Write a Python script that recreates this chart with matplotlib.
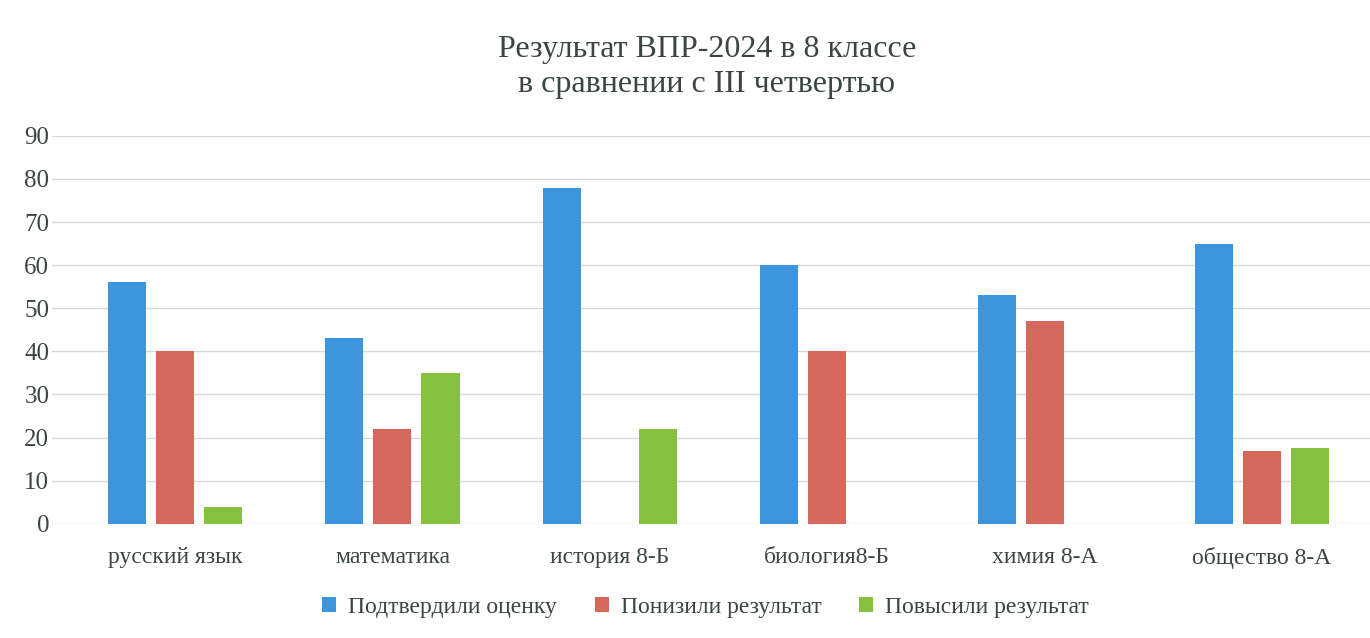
import matplotlib.pyplot as plt
import numpy as np

categories = ['русский язык', 'математика', 'история 8-Б', 'биология8-Б', 'химия 8-А', 'общество 8-А']
confirmed = [56, 43, 78, 60, 53, 65]
lowered = [40, 22, 0, 40, 47, 16.8]
raised = [4, 35, 22, 0, 0, 17.6]
series_names = ['Подтвердили оценку', 'Понизили результат', 'Повысили результат']
colors = ['#3d95dd', '#d4685a', '#86c140']

plt.rcParams['font.family'] = ['Liberation Serif', 'DejaVu Serif']

fig = plt.figure(figsize=(13.7, 6.38), dpi=100)
ax = fig.add_axes([0.038, 0.179, 0.962, 0.608])

x = np.arange(len(categories))
pitch = 0.221
width = 0.175
for i, (vals, name, c) in enumerate(zip([confirmed, lowered, raised], series_names, colors)):
    ax.bar(x + (i - 1) * pitch, vals, width, color=c, label=name, zorder=3)

ax.set_ylim(0, 90)
ax.set_yticks(range(0, 91, 10))
ax.set_xlim(-0.566, 5.497)
ax.set_xticks(x)
ax.set_xticklabels(categories, fontsize=17, color='#3a4544')
ax.tick_params(axis='x', length=0, pad=17)
ax.tick_params(axis='y', length=0, pad=2, labelsize=18, labelcolor='#3a4544')
ax.grid(axis='y', color='#d9d9d9', linewidth=1, zorder=0)
for s in ax.spines.values():
    s.set_visible(False)

fig.text(0.516, 0.895, 'Результат ВПР-2024 в 8 классе\nв сравнении с III четвертью',
         ha='center', va='center', fontsize=23, color='#3a4544', linespacing=1.3)

fig.legend(loc='center', bbox_to_anchor=(0.515, 0.048), ncol=3, frameon=False,
           fontsize=17, handlelength=0.6, handleheight=0.6, columnspacing=1.6,
           handletextpad=0.5, labelcolor='#3a4544')

fig.savefig('out.png', dpi=100)
